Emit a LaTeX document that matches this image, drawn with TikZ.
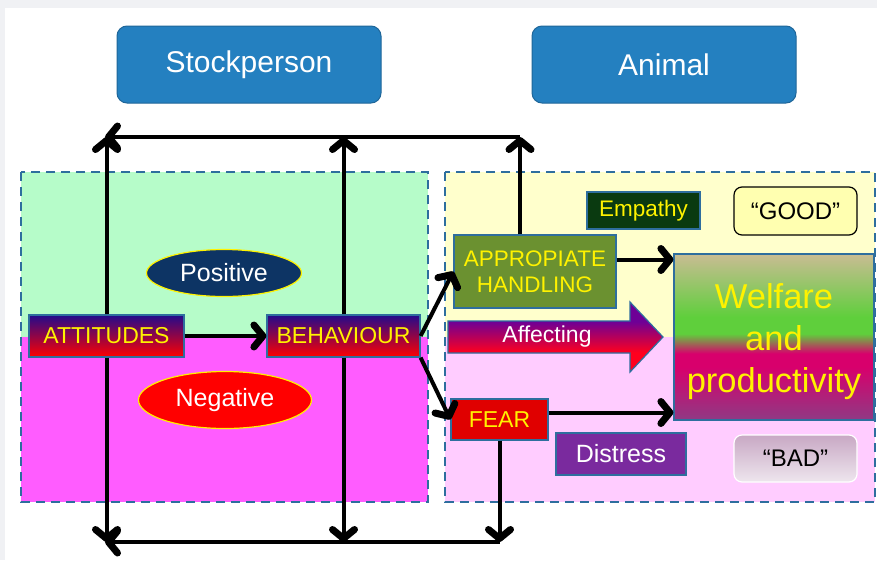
\documentclass[tikz,border=0pt]{standalone}
\usepackage{fontspec}
\setmainfont{Liberation Sans}
\usetikzlibrary{arrows.meta,shapes.geometric}
\definecolor{bggray}{RGB}{240,241,244}
\definecolor{hdrblue}{RGB}{36,128,192}
\definecolor{hdrline}{RGB}{31,102,153}
\definecolor{boxblue}{RGB}{46,110,158}
\definecolor{gradtop}{RGB}{35,10,140}
\definecolor{zgreen}{RGB}{182,252,201}
\definecolor{zmag}{RGB}{255,92,255}
\definecolor{zyel}{RGB}{255,255,204}
\definecolor{zpink}{RGB}{255,204,255}
\definecolor{posnavy}{RGB}{13,52,100}
\definecolor{handgreen}{RGB}{107,145,48}
\definecolor{empgreen}{RGB}{10,58,16}
\definecolor{goodyel}{RGB}{255,255,176}
\definecolor{fearred}{RGB}{224,0,0}
\definecolor{distpurple}{RGB}{122,42,158}
\definecolor{badtop}{RGB}{200,168,196}
\definecolor{badbot}{RGB}{238,230,238}
\definecolor{affpurple}{RGB}{110,0,150}
\definecolor{affred}{RGB}{255,0,30}
\definecolor{welftop}{RGB}{201,188,147}
\definecolor{welfgrn}{RGB}{95,207,60}
\definecolor{welfmag}{RGB}{216,0,108}
\definecolor{welfbot}{RGB}{143,58,132}
\pgfdeclareverticalshading{welfshade}{100bp}{color(0bp)=(welfbot); color(25bp)=(welfbot); color(41bp)=(welfmag); color(45bp)=(welfmag); color(51bp)=(welfgrn); color(56bp)=(welfgrn); color(75bp)=(welftop); color(100bp)=(welftop)}
\pgfdeclareverticalshading{affshade}{100bp}{color(0bp)=(affred); color(39bp)=(affred); color(61bp)=(affpurple); color(100bp)=(affpurple)}

\begin{document}
\begin{tikzpicture}[x=1pt, y=-1pt, every node/.style={font=\fontsize{22.5}{26}\selectfont, inner sep=0pt},
	hdr/.style={draw=hdrline, line width=1pt, fill=hdrblue, rounded corners=10pt, minimum width=264pt, minimum height=77pt, text=white, font=\fontsize{30}{34}\selectfont},
	gbox/.style={draw=boxblue, line width=1.2pt, top color=gradtop, bottom color=red, text=yellow, minimum height=42pt, font=\fontsize{23}{27}\selectfont},
	blk/.style={draw=boxblue, line width=1.2pt},
	oval/.style={ellipse, draw=yellow, line width=1.2pt, text=white, font=\fontsize{25}{29}\selectfont},
	tag/.style={rounded corners=8pt, line width=1.2pt, minimum width=123pt, font=\fontsize{24}{28}\selectfont},
	zone/.style={draw=boxblue, line width=2pt, dash pattern=on 9pt off 6pt},
	arr/.style={line width=4pt, -{Straight Barb[length=9pt,width=22pt,line width=7pt,round]}}]
	\useasboundingbox (0,0) rectangle (877,560);
	\fill[bggray] (0,0) rectangle (877,560); \fill[white] (5,8) rectangle (877,560);
	\fill[zgreen] (21,172) rectangle (428,337); \fill[zmag] (21,337) rectangle (428,502); \draw[zone] (21,172) rectangle (428,502);
	\fill[zyel] (445,172) rectangle (875,337); \fill[zpink] (445,337) rectangle (875,502); \draw[zone] (445,172) rectangle (875,502);
	\node[hdr] (stock) at (249,64.5) {Stockperson}; \node[hdr] (animal) at (664,64.5) {Animal};
	\node[gbox, minimum width=155pt] (att) at (106.5,336) {ATTITUDES}; \node[gbox, minimum width=153pt] (beh) at (343.5,336) {BEHAVIOUR};
	\node[oval, fill=posnavy, minimum width=155pt, minimum height=47pt] (pos) at (224,273) {Positive};
	\node[oval, fill=red, minimum width=173pt, minimum height=57pt] (neg) at (225,400) {Negative};
	\node[blk, fill=handgreen, text=yellow, align=center, minimum width=162pt, minimum height=73pt, font=\fontsize{22.5}{26}\selectfont] (hand) at (535,271.5) {APPROPIATE\\HANDLING};
	\node[blk, fill=empgreen, text=yellow, minimum width=113pt, minimum height=37pt] (emp) at (643.5,210.5) {Empathy};
	\node[tag, draw=black, fill=goodyel, minimum height=48pt] (good) at (795.5,211) {“GOOD”};
	\node[blk, shading=welfshade, shade, minimum width=200pt, minimum height=166pt] (welf) at (774,337) {};
	\node[text=yellow, align=center, font=\fontsize{34.5}{42}\selectfont] (welftext) at ([yshift=-5pt]welf.center) {Welfare\\and\\productivity};
	\node[blk, fill=fearred, text=yellow, minimum width=97pt, minimum height=41pt, font=\fontsize{23}{27}\selectfont] (fear) at (499.5,419.5) {FEAR};
	\node[blk, fill=distpurple, text=white, minimum width=130pt, minimum height=42pt, font=\fontsize{25}{29}\selectfont] (dist) at (621,454) {Distress};
	\node[tag, draw=white, top color=badtop, bottom color=badbot, minimum height=47pt] (bad) at (795.5,458.5) {“BAD”};
	\shade[shading=affshade, draw=boxblue, line width=1.2pt] (448,321) -- (630,321) -- (630,302) -- (663,337) -- (630,372) -- (630,353) -- (448,353) -- cycle;
	\node[text=white, font=\fontsize{23}{27}\selectfont] (aff) at (547,337) {Affecting};
	\coordinate (tl) at (105,137); \coordinate (tr) at (520,137); \coordinate (bl) at (105,542); \coordinate (br) at (fear.south |- bl);
	\foreach \n in {att, beh} {\draw[arr] (\n.north) -- (\n.north |- tl); \draw[arr] (\n.south) -- (\n.south |- bl);}
	\draw[arr] (hand.north -| tr) -- (tr); \draw[arr] (tr) -- (tl);
	\draw[arr] (fear.south) -- (br); \draw[arr] (br) -- (bl);
	\draw[arr] (att.east) -- (beh.west); \draw[arr] (beh.east) -- (hand.west); \draw[arr] (beh.south east) -- (fear.west);
	\draw[arr] ([yshift=12pt]hand.east) -- ([yshift=12pt]hand.east -| welf.west); \draw[arr] ([yshift=7pt]fear.east) -- ([yshift=7pt]fear.east -| welf.west);
\end{tikzpicture}
\end{document}
